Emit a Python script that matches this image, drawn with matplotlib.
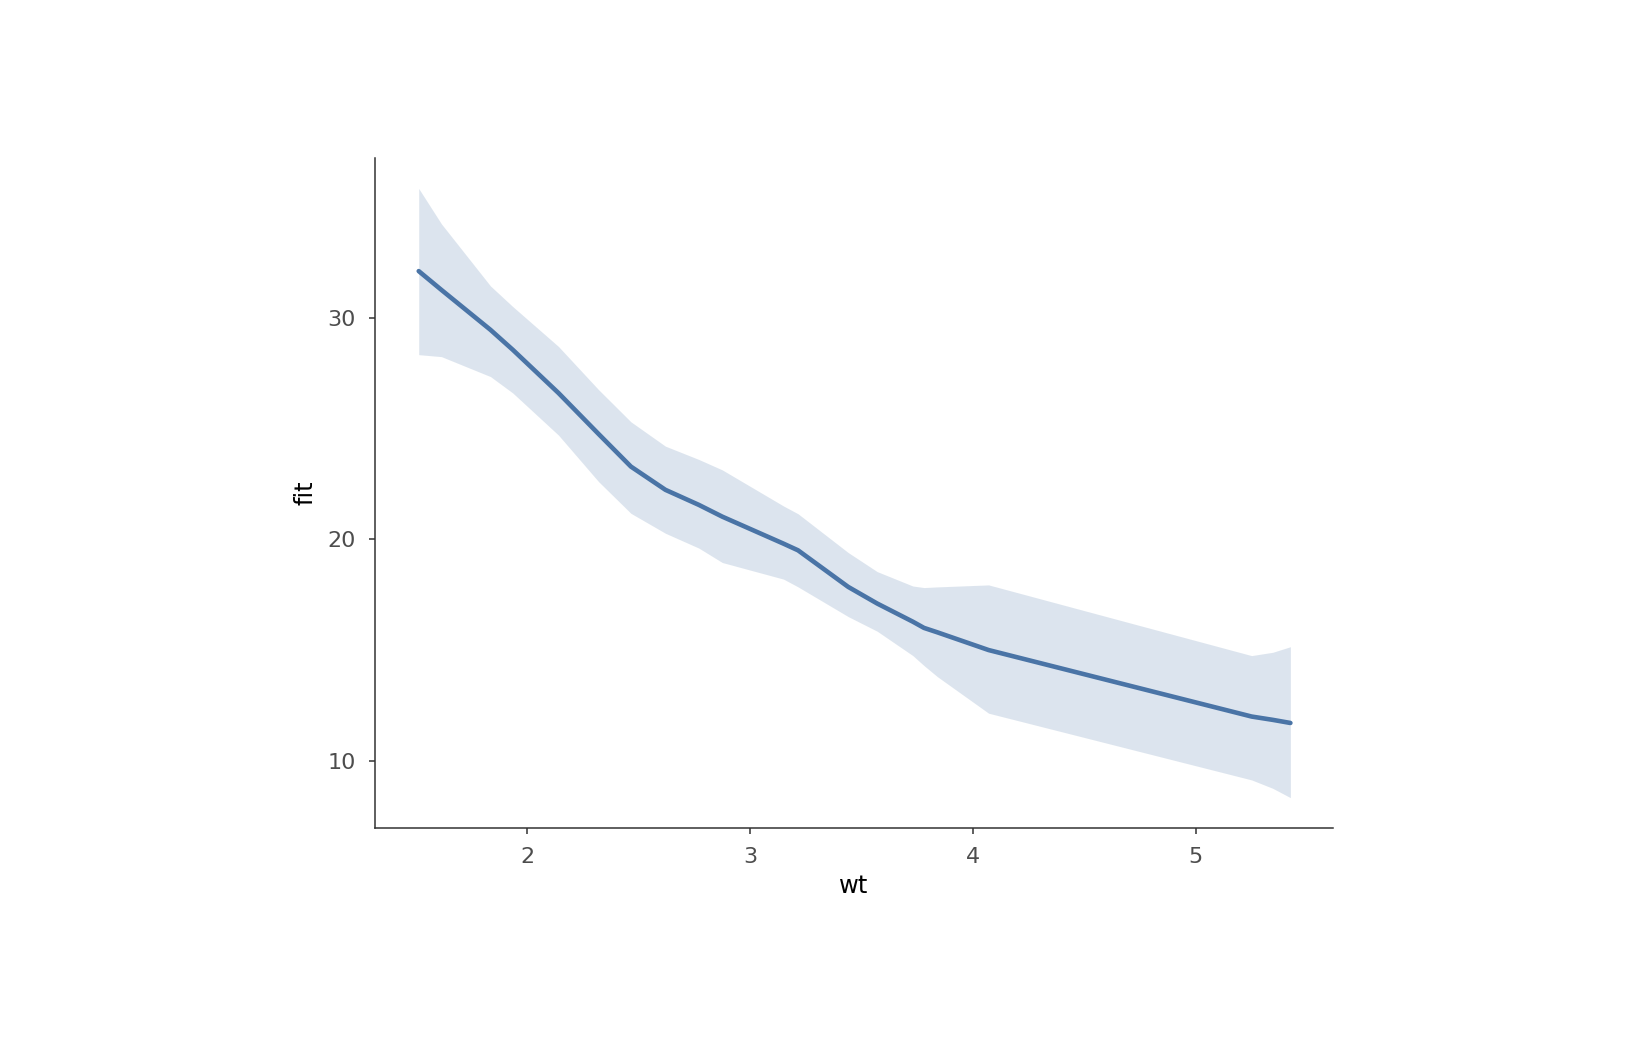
import numpy as np
import matplotlib.pyplot as plt


# values (wt grid of mtcars)
wt = [1.513, 1.615, 1.835, 1.935, 2.140, 2.320, 2.465, 2.620, 2.770, 2.875,
      3.150, 3.215, 3.440, 3.570, 3.730, 3.780, 3.840, 4.070, 5.250, 5.345, 5.424]
fit = [32.1, 31.25, 29.45, 28.55, 26.6, 24.75, 23.28, 22.23, 21.55, 21.02,
       19.8, 19.5, 17.85, 17.1, 16.28, 16.0, 15.8, 15.0, 12.0, 11.85, 11.71]
upper = [35.83, 34.23, 31.43, 30.5, 28.7, 26.75, 25.3, 24.2, 23.6, 23.13,
         21.5, 21.15, 19.4, 18.54, 17.89, 17.82, 17.85, 17.94, 14.75, 14.9, 15.15]
lower = [28.33, 28.24, 27.34, 26.6, 24.7, 22.6, 21.17, 20.27, 19.6, 18.95,
         18.2, 17.85, 16.51, 15.85, 14.75, 14.3, 13.8, 12.15, 9.14, 8.76, 8.34]

xticks = [2, 3, 4, 5]
yticks = [10, 20, 30]

line_col = '#4a74a6'

fig = plt.figure(figsize=(16.32, 10.56), dpi=100)
ax = fig.add_axes([0.2298, 0.2159, 0.8165 - 0.2298, 0.8503 - 0.2159])

ax.fill_between(wt, lower, upper, color=line_col, alpha=0.19, linewidth=0)
ax.plot(wt, fit, color=line_col, linewidth=3.3, solid_capstyle='round')

ax.set_xlim(1.317, 5.613)
ax.set_ylim(6.97, 37.2)
ax.set_xticks(xticks)
ax.set_yticks(yticks)

for s in ['top', 'right']:
    ax.spines[s].set_visible(False)
for s in ['left', 'bottom']:
    ax.spines[s].set_color('#333333')
    ax.spines[s].set_linewidth(1.1)

ax.tick_params(colors='#333333', labelcolor='#4d4d4d', labelsize=16,
               length=4.5, width=1.1, pad=9.5)

ax.set_xlabel('wt', fontsize=17.5, labelpad=5)
ax.set_ylabel('fit', fontsize=17.5, labelpad=7)

plt.savefig('out.png', dpi=100)
